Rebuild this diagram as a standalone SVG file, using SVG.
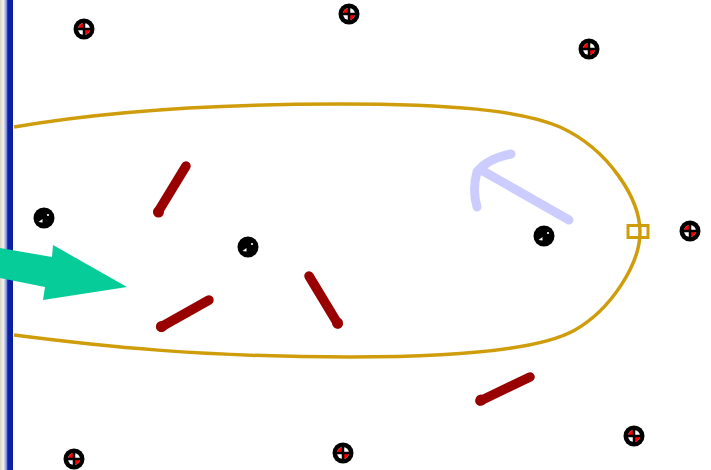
<svg xmlns="http://www.w3.org/2000/svg" width="711" height="470" viewBox="0 0 711 470">
  <style>
    .rod { stroke: #990000; stroke-width: 9.5; stroke-linecap: round; fill: none; }
    .knob { fill: #990000; }
    .loop { fill: none; stroke: #cf9d0c; stroke-width: 3.5; }
  </style>
  <defs>
    <linearGradient id="bar" x1="0" y1="0" x2="1" y2="0">
      <stop offset="0" stop-color="#d8d4c4"/>
      <stop offset="0.18" stop-color="#ece9dc"/>
      <stop offset="0.25" stop-color="#f4f6ff"/>
      <stop offset="0.5" stop-color="#7f8fd8"/>
      <stop offset="0.6" stop-color="#0a22a8"/>
      <stop offset="1" stop-color="#0a1f9a"/>
    </linearGradient>
    <g id="target">
      <circle r="10.5" fill="#000"/>
      <circle r="6" fill="#fff"/>
      <path d="M0,0 L-6,0 A6,6 0 0 1 0,-6 Z" fill="#ff0000"/>
      <path d="M0,0 L6,0 A6,6 0 0 1 0,6 Z" fill="#ff0000"/>
      <path d="M-7,0 H7 M0,-7 V7" stroke="#000" stroke-width="2.5"/>
    </g>
    <g id="ball">
      <circle r="10.5" fill="#000"/>
      <polygon points="-5.5,4 -1.5,1 -1.5,4.5" fill="#fff"/>
      <circle cx="4" cy="-3" r="1.1" fill="#fff"/>
    </g>
  </defs>
  <rect width="711" height="470" fill="#fff"/>
  <rect x="0" y="0" width="13" height="470" fill="url(#bar)"/>

  <g id="loop">
    <path class="loop" d="M14,127 C100,112 200,104 340,104 C450,104 520,110 560,127 C610,150 640,200 640,232 C640,265 610,310 575,330 C540,350 450,357 350,357 C200,357 100,346 14,335"/>
    <rect x="628" y="225.5" width="20" height="12" fill="none" stroke="#cf9d0c" stroke-width="3"/>
  </g>

  <g id="targets">
    <use href="#target" x="84" y="29"/>
    <use href="#target" x="349" y="14"/>
    <use href="#target" x="589" y="49"/>
    <use href="#target" x="690" y="231"/>
    <use href="#target" x="634" y="436"/>
    <use href="#target" x="343" y="453"/>
    <use href="#target" x="74" y="459"/>
  </g>

  <g id="balls">
    <use href="#ball" x="44" y="218"/>
    <use href="#ball" x="248" y="247"/>
    <use href="#ball" x="544" y="236"/>
  </g>

  <g id="rods">
    <line class="rod" x1="186" y1="166" x2="158" y2="212"/>
    <circle class="knob" cx="158.5" cy="212" r="5.5"/>
    <line class="rod" x1="209" y1="300" x2="161" y2="327"/>
    <circle class="knob" cx="161.5" cy="326.5" r="5.5"/>
    <line class="rod" x1="309" y1="276" x2="338" y2="324"/>
    <circle class="knob" cx="337.5" cy="323" r="5.5"/>
    <line class="rod" x1="530" y1="377" x2="480" y2="401"/>
    <circle class="knob" cx="481" cy="400" r="5.5"/>
  </g>

  <g id="green-arrow">
    <polygon points="0,248 52,257 53,245 127,287 43,300 45,287 0,278" fill="#06cc99"/>
  </g>

  <g id="blue-arrow" fill="none" stroke="#ccccff" stroke-width="9" stroke-linecap="round" stroke-linejoin="round">
    <line x1="569" y1="220" x2="483" y2="171"/>
    <path d="M511,154 Q487,159 477,172 Q472,190 477,207"/>
  </g>
</svg>
